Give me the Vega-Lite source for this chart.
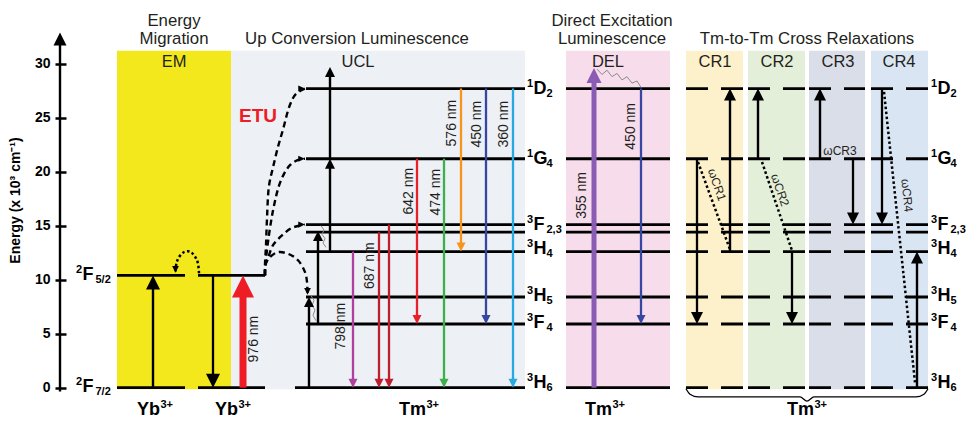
{
  "$schema": "https://vega.github.io/schema/vega-lite/v6.json",
  "width": 968,
  "height": 421,
  "padding": 0,
  "autosize": {"type": "none"},
  "background": "white",
  "config": {"view": {"stroke": null}, "font": "Liberation Sans"},
  "resolve": {"axis": {"y": "independent", "x": "independent"}},
  "datasets": {
    "panels": [
      {"panel": "EM", "x1": 117, "x2": 231, "e1": -0.15, "e2": 31.2},
      {"panel": "UCL", "x1": 231, "x2": 525, "e1": -0.15, "e2": 31.2},
      {"panel": "DEL", "x1": 566, "x2": 670, "e1": -0.15, "e2": 31.2},
      {"panel": "CR1", "x1": 686, "x2": 743, "e1": -0.15, "e2": 31.2},
      {"panel": "CR2", "x1": 748, "x2": 805, "e1": -0.15, "e2": 31.2},
      {"panel": "CR3", "x1": 809, "x2": 865, "e1": -0.15, "e2": 31.2},
      {"panel": "CR4", "x1": 871, "x2": 928, "e1": -0.15, "e2": 31.2}
    ],
    "levels": [
      {"x1": 117, "x2": 185, "e": 10.4, "style": "solid"},
      {"x1": 198, "x2": 265, "e": 10.4, "style": "solid"},
      {"x1": 117, "x2": 185, "e": 0, "style": "solid"},
      {"x1": 198, "x2": 265, "e": 0, "style": "solid"},
      {"x1": 306, "x2": 525, "e": 27.7, "style": "solid"},
      {"x1": 306, "x2": 525, "e": 21.2, "style": "solid"},
      {"x1": 306, "x2": 525, "e": 15.1, "style": "solid"},
      {"x1": 306, "x2": 525, "e": 14.4, "style": "solid"},
      {"x1": 306, "x2": 525, "e": 12.6, "style": "solid"},
      {"x1": 306, "x2": 525, "e": 8.4, "style": "solid"},
      {"x1": 306, "x2": 525, "e": 5.9, "style": "solid"},
      {"x1": 295, "x2": 525, "e": 0, "style": "solid"},
      {"x1": 566, "x2": 670, "e": 27.7, "style": "solid"},
      {"x1": 566, "x2": 670, "e": 21.2, "style": "solid"},
      {"x1": 566, "x2": 670, "e": 15.1, "style": "solid"},
      {"x1": 566, "x2": 670, "e": 14.4, "style": "solid"},
      {"x1": 566, "x2": 670, "e": 12.6, "style": "solid"},
      {"x1": 566, "x2": 670, "e": 8.4, "style": "solid"},
      {"x1": 566, "x2": 670, "e": 5.9, "style": "solid"},
      {"x1": 566, "x2": 670, "e": 0, "style": "solid"},
      {"x1": 686, "x2": 743, "e": 27.7, "style": "dashed"},
      {"x1": 686, "x2": 743, "e": 21.2, "style": "dashed"},
      {"x1": 686, "x2": 743, "e": 15.1, "style": "dashed"},
      {"x1": 686, "x2": 743, "e": 14.4, "style": "dashed"},
      {"x1": 686, "x2": 743, "e": 12.6, "style": "dashed"},
      {"x1": 686, "x2": 743, "e": 8.4, "style": "dashed"},
      {"x1": 686, "x2": 743, "e": 5.9, "style": "dashed"},
      {"x1": 686, "x2": 743, "e": 0, "style": "dashed"},
      {"x1": 748, "x2": 805, "e": 27.7, "style": "dashed"},
      {"x1": 748, "x2": 805, "e": 21.2, "style": "dashed"},
      {"x1": 748, "x2": 805, "e": 15.1, "style": "dashed"},
      {"x1": 748, "x2": 805, "e": 14.4, "style": "dashed"},
      {"x1": 748, "x2": 805, "e": 12.6, "style": "dashed"},
      {"x1": 748, "x2": 805, "e": 8.4, "style": "dashed"},
      {"x1": 748, "x2": 805, "e": 5.9, "style": "dashed"},
      {"x1": 748, "x2": 805, "e": 0, "style": "dashed"},
      {"x1": 809, "x2": 865, "e": 27.7, "style": "dashed"},
      {"x1": 809, "x2": 865, "e": 21.2, "style": "dashed"},
      {"x1": 809, "x2": 865, "e": 15.1, "style": "dashed"},
      {"x1": 809, "x2": 865, "e": 14.4, "style": "dashed"},
      {"x1": 809, "x2": 865, "e": 12.6, "style": "dashed"},
      {"x1": 809, "x2": 865, "e": 8.4, "style": "dashed"},
      {"x1": 809, "x2": 865, "e": 5.9, "style": "dashed"},
      {"x1": 809, "x2": 865, "e": 0, "style": "dashed"},
      {"x1": 871, "x2": 928, "e": 27.7, "style": "dashed"},
      {"x1": 871, "x2": 928, "e": 21.2, "style": "dashed"},
      {"x1": 871, "x2": 928, "e": 15.1, "style": "dashed"},
      {"x1": 871, "x2": 928, "e": 14.4, "style": "dashed"},
      {"x1": 871, "x2": 928, "e": 12.6, "style": "dashed"},
      {"x1": 871, "x2": 928, "e": 8.4, "style": "dashed"},
      {"x1": 871, "x2": 928, "e": 5.9, "style": "dashed"},
      {"x1": 871, "x2": 928, "e": 0, "style": "dashed"}
    ],
    "arrows": [
      {"x": 60, "e1": -0.35, "e2": 32.9, "kind": "axis", "dir": "up"},
      {"x": 153, "e1": 0, "e2": 10.4, "kind": "yb", "dir": "up"},
      {"x": 213, "e1": 10.4, "e2": 0, "kind": "yb", "dir": "down"},
      {"x": 243, "e1": 0, "e2": 10.4, "kind": "red976", "dir": "up"},
      {"x": 309, "e1": 0, "e2": 8.4, "kind": "ucl", "dir": "up"},
      {"x": 318, "e1": 5.9, "e2": 14.5, "kind": "ucl", "dir": "up"},
      {"x": 330, "e1": 12.6, "e2": 21.2, "kind": "ucl", "dir": "up"},
      {"x": 330, "e1": 21.2, "e2": 29.7, "kind": "ucl", "dir": "up"},
      {"x": 353, "e1": 12.6, "e2": 0, "kind": "c798", "dir": "down"},
      {"x": 379, "e1": 14.4, "e2": 0, "kind": "c687", "dir": "down"},
      {"x": 389, "e1": 15.1, "e2": 0, "kind": "c687", "dir": "down"},
      {"x": 417, "e1": 21.2, "e2": 5.9, "kind": "c642", "dir": "down"},
      {"x": 444, "e1": 21.2, "e2": 0, "kind": "c474", "dir": "down"},
      {"x": 461, "e1": 27.7, "e2": 12.6, "kind": "c576", "dir": "down"},
      {"x": 486, "e1": 27.7, "e2": 5.9, "kind": "c450", "dir": "down"},
      {"x": 513, "e1": 27.7, "e2": 0, "kind": "c360", "dir": "down"},
      {"x": 594, "e1": 0, "e2": 29.6, "kind": "c355", "dir": "up"},
      {"x": 641, "e1": 27.7, "e2": 5.9, "kind": "c450", "dir": "down"},
      {"x": 697, "e1": 21.2, "e2": 5.9, "kind": "cr", "dir": "down"},
      {"x": 730, "e1": 12.6, "e2": 27.7, "kind": "cr", "dir": "up"},
      {"x": 758, "e1": 21.2, "e2": 27.7, "kind": "cr", "dir": "up"},
      {"x": 792, "e1": 12.6, "e2": 5.9, "kind": "cr", "dir": "down"},
      {"x": 820, "e1": 21.2, "e2": 27.7, "kind": "cr", "dir": "up"},
      {"x": 853, "e1": 21.2, "e2": 15.1, "kind": "cr", "dir": "down"},
      {"x": 882, "e1": 27.7, "e2": 15.1, "kind": "cr", "dir": "down"},
      {"x": 917, "e1": 0, "e2": 12.6, "kind": "cr", "dir": "up"}
    ],
    "curves": [
      {"curve": "A", "ctype": "etu", "ord": 1, "x": 265, "e": 10.4},
      {"curve": "A", "ctype": "etu", "ord": 2, "x": 265, "e": 11.4},
      {"curve": "A", "ctype": "etu", "ord": 3, "x": 266, "e": 13.2},
      {"curve": "A", "ctype": "etu", "ord": 4, "x": 267, "e": 15.7},
      {"curve": "A", "ctype": "etu", "ord": 5, "x": 269, "e": 18.7},
      {"curve": "A", "ctype": "etu", "ord": 6, "x": 273, "e": 20.4},
      {"curve": "A", "ctype": "etu", "ord": 7, "x": 278, "e": 22.3},
      {"curve": "A", "ctype": "etu", "ord": 8, "x": 283, "e": 23.9},
      {"curve": "A", "ctype": "etu", "ord": 9, "x": 290, "e": 26.2},
      {"curve": "A", "ctype": "etu", "ord": 10, "x": 296, "e": 27.2},
      {"curve": "A", "ctype": "etu", "ord": 11, "x": 305, "e": 27.7, "head": "right", "kind": "ucl"},
      {"curve": "B", "ctype": "etu", "ord": 1, "x": 265, "e": 10.4},
      {"curve": "B", "ctype": "etu", "ord": 2, "x": 265.5, "e": 11.4},
      {"curve": "B", "ctype": "etu", "ord": 3, "x": 268, "e": 13.5},
      {"curve": "B", "ctype": "etu", "ord": 4, "x": 273, "e": 16.4},
      {"curve": "B", "ctype": "etu", "ord": 5, "x": 279, "e": 18.7},
      {"curve": "B", "ctype": "etu", "ord": 6, "x": 284, "e": 19.8},
      {"curve": "B", "ctype": "etu", "ord": 7, "x": 290, "e": 20.6},
      {"curve": "B", "ctype": "etu", "ord": 8, "x": 297, "e": 21.05},
      {"curve": "B", "ctype": "etu", "ord": 9, "x": 305, "e": 21.2, "head": "right", "kind": "ucl"},
      {"curve": "C", "ctype": "etu", "ord": 1, "x": 265, "e": 10.4},
      {"curve": "C", "ctype": "etu", "ord": 2, "x": 265.5, "e": 11.4},
      {"curve": "C", "ctype": "etu", "ord": 3, "x": 268, "e": 12.0},
      {"curve": "C", "ctype": "etu", "ord": 4, "x": 273, "e": 13.2},
      {"curve": "C", "ctype": "etu", "ord": 5, "x": 282, "e": 14.1},
      {"curve": "C", "ctype": "etu", "ord": 6, "x": 292, "e": 14.8},
      {"curve": "C", "ctype": "etu", "ord": 7, "x": 305, "e": 15.1, "head": "right", "kind": "ucl"},
      {"curve": "D", "ctype": "etu", "ord": 1, "x": 265, "e": 10.4},
      {"curve": "D", "ctype": "etu", "ord": 2, "x": 265.5, "e": 11.4},
      {"curve": "D", "ctype": "etu", "ord": 3, "x": 270, "e": 12.1},
      {"curve": "D", "ctype": "etu", "ord": 4, "x": 278, "e": 12.55},
      {"curve": "D", "ctype": "etu", "ord": 5, "x": 288, "e": 12.4},
      {"curve": "D", "ctype": "etu", "ord": 6, "x": 298, "e": 11.8},
      {"curve": "D", "ctype": "etu", "ord": 7, "x": 305, "e": 10.7},
      {"curve": "D", "ctype": "etu", "ord": 8, "x": 307, "e": 9.8},
      {"curve": "D", "ctype": "etu", "ord": 9, "x": 307.5, "e": 8.6, "head": "down", "kind": "ucl"},
      {"curve": "EM", "ctype": "dot", "ord": 1, "x": 199, "e": 10.6},
      {"curve": "EM", "ctype": "dot", "ord": 2, "x": 197, "e": 11.8},
      {"curve": "EM", "ctype": "dot", "ord": 3, "x": 190, "e": 12.6},
      {"curve": "EM", "ctype": "dot", "ord": 4, "x": 183, "e": 12.5},
      {"curve": "EM", "ctype": "dot", "ord": 5, "x": 177, "e": 11.7},
      {"curve": "EM", "ctype": "dot", "ord": 6, "x": 175.5, "e": 10.65, "head": "down", "kind": "ucl"},
      {"curve": "W1", "ctype": "dot", "ord": 1, "x": 698, "e": 20.9},
      {"curve": "W1", "ctype": "dot", "ord": 2, "x": 730, "e": 12.8},
      {"curve": "W2", "ctype": "dot", "ord": 1, "x": 762, "e": 20.9},
      {"curve": "W2", "ctype": "dot", "ord": 2, "x": 792, "e": 12.7},
      {"curve": "W4", "ctype": "dot", "ord": 1, "x": 884, "e": 27.4},
      {"curve": "W4", "ctype": "dot", "ord": 2, "x": 915, "e": 0.5},
      {"curve": "BR", "ctype": "brace", "ord": 1, "x": 686, "e": -0.1},
      {"curve": "BR", "ctype": "brace", "ord": 2, "x": 690, "e": -0.6},
      {"curve": "BR", "ctype": "brace", "ord": 3, "x": 698, "e": -0.85},
      {"curve": "BR", "ctype": "brace", "ord": 4, "x": 800, "e": -0.85},
      {"curve": "BR", "ctype": "brace", "ord": 5, "x": 807, "e": -1.25},
      {"curve": "BR", "ctype": "brace", "ord": 6, "x": 814, "e": -0.85},
      {"curve": "BR", "ctype": "brace", "ord": 7, "x": 916, "e": -0.85},
      {"curve": "BR", "ctype": "brace", "ord": 8, "x": 924, "e": -0.6},
      {"curve": "BR", "ctype": "brace", "ord": 9, "x": 928, "e": -0.1},
      {"curve": "WV", "ctype": "wave", "ord": 1, "x": 597, "e": 29.5},
      {"curve": "WV", "ctype": "wave", "ord": 2, "x": 602, "e": 29.0},
      {"curve": "WV", "ctype": "wave", "ord": 3, "x": 607, "e": 29.4},
      {"curve": "WV", "ctype": "wave", "ord": 4, "x": 612, "e": 28.8},
      {"curve": "WV", "ctype": "wave", "ord": 5, "x": 617, "e": 29.1},
      {"curve": "WV", "ctype": "wave", "ord": 6, "x": 622, "e": 28.5},
      {"curve": "WV", "ctype": "wave", "ord": 7, "x": 627, "e": 28.8},
      {"curve": "WV", "ctype": "wave", "ord": 8, "x": 632, "e": 28.2},
      {"curve": "WV", "ctype": "wave", "ord": 9, "x": 637, "e": 28.4},
      {"curve": "WV", "ctype": "wave", "ord": 10, "x": 641, "e": 27.8},
      {"curve": "WU1", "ctype": "wave", "ord": 1, "x": 321, "e": 15.0},
      {"curve": "WU1", "ctype": "wave", "ord": 2, "x": 324, "e": 14.6},
      {"curve": "WU1", "ctype": "wave", "ord": 3, "x": 322, "e": 14.2},
      {"curve": "WU1", "ctype": "wave", "ord": 4, "x": 325, "e": 13.8},
      {"curve": "WU1", "ctype": "wave", "ord": 5, "x": 323, "e": 13.4},
      {"curve": "WU1", "ctype": "wave", "ord": 6, "x": 326, "e": 13.0},
      {"curve": "WU2", "ctype": "wave", "ord": 1, "x": 311, "e": 8.5},
      {"curve": "WU2", "ctype": "wave", "ord": 2, "x": 314, "e": 8.1},
      {"curve": "WU2", "ctype": "wave", "ord": 3, "x": 312, "e": 7.6},
      {"curve": "WU2", "ctype": "wave", "ord": 4, "x": 315, "e": 7.2},
      {"curve": "WU2", "ctype": "wave", "ord": 5, "x": 313, "e": 6.7},
      {"curve": "WU2", "ctype": "wave", "ord": 6, "x": 316, "e": 6.2}
    ],
    "levelLabels": [
      {"x": 527, "e": 27.7, "sup": "1", "main": "D", "sub": "2"},
      {"x": 527, "e": 21.2, "sup": "1", "main": "G", "sub": "4"},
      {"x": 527, "e": 15.1, "sup": "3", "main": "F", "sub": "2,3"},
      {"x": 527, "e": 12.8, "sup": "3", "main": "H", "sub": "4"},
      {"x": 527, "e": 8.5, "sup": "3", "main": "H", "sub": "5"},
      {"x": 527, "e": 6.0, "sup": "3", "main": "F", "sub": "4"},
      {"x": 527, "e": 0.4, "sup": "3", "main": "H", "sub": "6"},
      {"x": 931, "e": 27.7, "sup": "1", "main": "D", "sub": "2"},
      {"x": 931, "e": 21.2, "sup": "1", "main": "G", "sub": "4"},
      {"x": 931, "e": 15.1, "sup": "3", "main": "F", "sub": "2,3"},
      {"x": 931, "e": 12.8, "sup": "3", "main": "H", "sub": "4"},
      {"x": 931, "e": 8.5, "sup": "3", "main": "H", "sub": "5"},
      {"x": 931, "e": 6.0, "sup": "3", "main": "F", "sub": "4"},
      {"x": 931, "e": 0.4, "sup": "3", "main": "H", "sub": "6"},
      {"x": 76, "e": 10.4, "sup": "2", "main": "F", "sub": "5/2"},
      {"x": 76, "e": 0.1, "sup": "2", "main": "F", "sub": "7/2"}
    ],
    "ions": [
      {"x": 160, "e": -2.1, "main": "Yb", "sup": "3+"},
      {"x": 238, "e": -2.1, "main": "Yb", "sup": "3+"},
      {"x": 426, "e": -2.1, "main": "Tm", "sup": "3+"},
      {"x": 612, "e": -2.1, "main": "Tm", "sup": "3+"},
      {"x": 814, "e": -2.1, "main": "Tm", "sup": "3+"}
    ],
    "texts": [
      {"x": 174, "e": 33.95, "text": "Energy", "role": "title"},
      {"x": 174, "e": 32.25, "text": "Migration", "role": "title"},
      {"x": 357, "e": 32.25, "text": "Up Conversion Luminescence", "role": "title"},
      {"x": 612, "e": 33.95, "text": "Direct Excitation", "role": "title"},
      {"x": 612, "e": 32.25, "text": "Luminescence", "role": "title"},
      {"x": 807, "e": 32.25, "text": "Tm-to-Tm Cross Relaxations", "role": "title"},
      {"x": 174, "e": 30.2, "text": "EM", "role": "panel"},
      {"x": 358, "e": 30.2, "text": "UCL", "role": "panel"},
      {"x": 608, "e": 30.2, "text": "DEL", "role": "panel"},
      {"x": 715, "e": 30.2, "text": "CR1", "role": "panel"},
      {"x": 777, "e": 30.2, "text": "CR2", "role": "panel"},
      {"x": 838, "e": 30.2, "text": "CR3", "role": "panel"},
      {"x": 899, "e": 30.2, "text": "CR4", "role": "panel"},
      {"x": 258, "e": 25.2, "text": "ETU", "role": "etu"},
      {"x": 254, "e": 4.5, "text": "976 nm", "role": "nm"},
      {"x": 341, "e": 5.7, "text": "798 nm", "role": "nm"},
      {"x": 370, "e": 11.3, "text": "687 nm", "role": "nm"},
      {"x": 409, "e": 18.2, "text": "642 nm", "role": "nm"},
      {"x": 436, "e": 18.1, "text": "474 nm", "role": "nm"},
      {"x": 452, "e": 24.5, "text": "576 nm", "role": "nm"},
      {"x": 477, "e": 24.4, "text": "450 nm", "role": "nm"},
      {"x": 504, "e": 24.4, "text": "360 nm", "role": "nm"},
      {"x": 631, "e": 24.2, "text": "450 nm", "role": "nm"},
      {"x": 582, "e": 17.8, "text": "355 nm", "role": "nm"},
      {"x": 717, "e": 18.8, "text": "ωCR1", "role": "omegaA"},
      {"x": 780, "e": 18.3, "text": "ωCR2", "role": "omegaA"},
      {"x": 907, "e": 17.8, "text": "ωCR4", "role": "omegaB"},
      {"x": 840, "e": 21.9, "text": "ωCR3", "role": "omegaC"}
    ]
  },
  "layer": [
    {
      "data": {"name": "panels"},
      "mark": {"type": "rect"},
      "encoding": {
        "x": {"field": "x1", "type": "quantitative", "scale": {"domain": [0, 968], "nice": false, "zero": false}, "axis": null},
        "x2": {"field": "x2"},
        "y": {"field": "e1", "type": "quantitative", "scale": {"domain": [-3.083, 35.898], "nice": false, "zero": false},
          "axis": {"values": [0, 5, 10, 15, 20, 25, 30], "offset": -66, "tickSize": 11, "tickWidth": 2.5, "tickColor": "black", "domain": false, "grid": false,
            "labelFont": "Liberation Sans", "labelFontWeight": "bold", "labelFontSize": 14, "labelColor": "black", "labelPadding": 5,
            "title": "Energy (x 10³ cm⁻¹)", "titleFont": "Liberation Sans", "titleFontSize": 14, "titleFontWeight": "bold", "titleColor": "black",
            "titleX": -51, "titleY": 200, "titleAngle": 270, "titleAlign": "center", "titleBaseline": "middle"}},
        "y2": {"field": "e2"},
        "color": {"field": "panel", "type": "nominal", "legend": null,
          "scale": {"domain": ["EM", "UCL", "DEL", "CR1", "CR2", "CR3", "CR4", "axis", "yb", "ucl", "cr", "red976", "c355", "c798", "c687", "c642", "c474", "c576", "c450", "c360"],
            "range": ["#F2E81C", "#EDF0F4", "#F7DDEC", "#FDF1CC", "#E4EFDA", "#DADEE8", "#DAE5F3", "#000000", "#000000", "#000000", "#000000", "#EE1C25", "#8B5CB3", "#B0409E", "#BE1E2D", "#E8202A", "#3CB04A", "#F7941D", "#3547A0", "#28A9E1"]}}
      }
    },
    {
      "data": {"name": "levels"},
      "transform": [{"filter": "datum.style == 'solid'"}],
      "mark": {"type": "rule", "strokeWidth": 2.8, "color": "black", "strokeCap": "butt"},
      "encoding": {
        "x": {"field": "x1", "type": "quantitative", "axis": null},
        "x2": {"field": "x2"},
        "y": {"field": "e", "type": "quantitative", "axis": null}
      }
    },
    {
      "data": {"name": "levels"},
      "transform": [{"filter": "datum.style == 'dashed'"}],
      "mark": {"type": "rule", "strokeWidth": 2.8, "color": "black", "strokeCap": "butt", "strokeDash": [22, 13]},
      "encoding": {
        "x": {"field": "x1", "type": "quantitative", "axis": null},
        "x2": {"field": "x2"},
        "y": {"field": "e", "type": "quantitative", "axis": null}
      }
    },
    {
      "data": {"name": "curves"},
      "transform": [{"filter": "datum.ctype == 'etu'"}],
      "mark": {"type": "line", "interpolate": "catmull-rom", "strokeDash": [6, 4], "strokeWidth": 2.4, "color": "black"},
      "encoding": {
        "x": {"field": "x", "type": "quantitative", "axis": null},
        "y": {"field": "e", "type": "quantitative", "axis": null},
        "detail": {"field": "curve"},
        "order": {"field": "ord"}
      }
    },
    {
      "data": {"name": "curves"},
      "transform": [{"filter": "datum.ctype == 'dot'"}],
      "mark": {"type": "line", "interpolate": "catmull-rom", "strokeDash": [2.5, 2.5], "strokeWidth": 2.5, "color": "black"},
      "encoding": {
        "x": {"field": "x", "type": "quantitative", "axis": null},
        "y": {"field": "e", "type": "quantitative", "axis": null},
        "detail": {"field": "curve"},
        "order": {"field": "ord"}
      }
    },
    {
      "data": {"name": "curves"},
      "transform": [{"filter": "datum.ctype == 'brace'"}],
      "mark": {"type": "line", "interpolate": "monotone", "strokeWidth": 1.3, "color": "black"},
      "encoding": {
        "x": {"field": "x", "type": "quantitative", "axis": null},
        "y": {"field": "e", "type": "quantitative", "axis": null},
        "detail": {"field": "curve"},
        "order": {"field": "ord"}
      }
    },
    {
      "data": {"name": "curves"},
      "transform": [{"filter": "datum.ctype == 'wave'"}],
      "mark": {"type": "line", "strokeWidth": 1, "color": "#8a8a8a"},
      "encoding": {
        "x": {"field": "x", "type": "quantitative", "axis": null},
        "y": {"field": "e", "type": "quantitative", "axis": null},
        "detail": {"field": "curve"},
        "order": {"field": "ord"}
      }
    },
    {
      "data": {"name": "arrows"},
      "transform": [{"filter": "datum.dir == 'up' && datum.kind != 'red976' && datum.kind != 'c355'"}],
      "mark": {"type": "rule", "y2Offset": 4, "strokeCap": "butt", "strokeWidth": 2.4},
      "encoding": {
        "x": {"field": "x", "type": "quantitative", "axis": null},
        "y": {"field": "e1", "type": "quantitative", "axis": null},
        "y2": {"field": "e2"},
        "color": {"field": "kind", "type": "nominal", "legend": null}
      }
    },
    {
      "data": {"name": "arrows"},
      "transform": [{"filter": "datum.dir == 'down'"}],
      "mark": {"type": "rule", "y2Offset": -4, "strokeCap": "butt", "strokeWidth": 2.3},
      "encoding": {
        "x": {"field": "x", "type": "quantitative", "axis": null},
        "y": {"field": "e1", "type": "quantitative", "axis": null},
        "y2": {"field": "e2"},
        "color": {"field": "kind", "type": "nominal", "legend": null}
      }
    },
    {
      "data": {"name": "arrows"},
      "transform": [{"filter": "datum.kind == 'red976'"}],
      "mark": {"type": "rule", "y2Offset": 12, "strokeCap": "butt", "strokeWidth": 7},
      "encoding": {
        "x": {"field": "x", "type": "quantitative", "axis": null},
        "y": {"field": "e1", "type": "quantitative", "axis": null},
        "y2": {"field": "e2"},
        "color": {"field": "kind", "type": "nominal", "legend": null}
      }
    },
    {
      "data": {"name": "arrows"},
      "transform": [{"filter": "datum.kind == 'c355'"}],
      "mark": {"type": "rule", "y2Offset": 10, "strokeCap": "butt", "strokeWidth": 5},
      "encoding": {
        "x": {"field": "x", "type": "quantitative", "axis": null},
        "y": {"field": "e1", "type": "quantitative", "axis": null},
        "y2": {"field": "e2"},
        "color": {"field": "kind", "type": "nominal", "legend": null}
      }
    },
    {
      "data": {"name": "arrows"},
      "mark": {"type": "point", "filled": true, "opacity": 1, "strokeWidth": 0},
      "encoding": {
        "x": {"field": "x", "type": "quantitative", "axis": null},
        "y": {"field": "e2", "type": "quantitative", "axis": null},
        "color": {"field": "kind", "type": "nominal", "legend": null},
        "shape": {"field": "dir", "type": "nominal", "legend": null,
          "scale": {"domain": ["up", "down", "right"], "range": ["M0,0L-0.5,1L0.5,1Z", "M0,0L-0.5,-1L0.5,-1Z", "M0,0L-1,-0.45L-1,0.45Z"]}},
        "size": {"field": "kind", "type": "nominal", "legend": null,
          "scale": {"type": "ordinal", "domain": ["axis", "yb", "ucl", "cr", "red976", "c355", "c798", "c687", "c642", "c474", "c576", "c450", "c360"],
            "range": [676, 784, 400, 576, 1936, 900, 324, 324, 324, 324, 324, 324, 324]}}
      }
    },
    {
      "data": {"name": "curves"},
      "transform": [{"filter": "isValid(datum.head)"}],
      "mark": {"type": "point", "filled": true, "opacity": 1, "strokeWidth": 0},
      "encoding": {
        "x": {"field": "x", "type": "quantitative", "axis": null},
        "y": {"field": "e", "type": "quantitative", "axis": null},
        "color": {"field": "kind", "type": "nominal", "legend": null},
        "shape": {"field": "head", "type": "nominal", "legend": null},
        "size": {"field": "kind", "type": "nominal", "legend": null}
      }
    },
    {
      "data": {"name": "texts"},
      "transform": [{"filter": "datum.role == 'title'"}],
      "mark": {"type": "text", "font": "Liberation Sans", "fontSize": 16.8, "color": "#231F20", "baseline": "middle", "align": "center"},
      "encoding": {
        "x": {"field": "x", "type": "quantitative", "axis": null},
        "y": {"field": "e", "type": "quantitative", "axis": null},
        "text": {"field": "text"}
      }
    },
    {
      "data": {"name": "texts"},
      "transform": [{"filter": "datum.role == 'panel'"}],
      "mark": {"type": "text", "font": "Liberation Sans", "fontSize": 16.5, "color": "#231F20", "baseline": "middle", "align": "center"},
      "encoding": {
        "x": {"field": "x", "type": "quantitative", "axis": null},
        "y": {"field": "e", "type": "quantitative", "axis": null},
        "text": {"field": "text"}
      }
    },
    {
      "data": {"name": "levelLabels"},
      "mark": {"type": "text", "font": "Liberation Sans", "fontSize": 11, "fontWeight": "bold", "color": "black", "baseline": "middle", "align": "left", "dy": -5},
      "encoding": {
        "x": {"field": "x", "type": "quantitative", "axis": null},
        "y": {"field": "e", "type": "quantitative", "axis": null},
        "text": {"field": "sup"}
      }
    },
    {
      "data": {"name": "levelLabels"},
      "mark": {"type": "text", "font": "Liberation Sans", "fontSize": 18, "fontWeight": "bold", "color": "black", "baseline": "middle", "align": "left", "dx": 6.5},
      "encoding": {
        "x": {"field": "x", "type": "quantitative", "axis": null},
        "y": {"field": "e", "type": "quantitative", "axis": null},
        "text": {"field": "main"}
      }
    },
    {
      "data": {"name": "levelLabels"},
      "mark": {"type": "text", "font": "Liberation Sans", "fontSize": 11, "fontWeight": "bold", "color": "black", "baseline": "middle", "align": "left", "dx": 19.5, "dy": 5},
      "encoding": {
        "x": {"field": "x", "type": "quantitative", "axis": null},
        "y": {"field": "e", "type": "quantitative", "axis": null},
        "text": {"field": "sub"}
      }
    },
    {
      "data": {"name": "ions"},
      "mark": {"type": "text", "font": "Liberation Sans", "fontSize": 18, "fontWeight": "bold", "color": "black", "baseline": "middle", "align": "right"},
      "encoding": {
        "x": {"field": "x", "type": "quantitative", "axis": null},
        "y": {"field": "e", "type": "quantitative", "axis": null},
        "text": {"field": "main"}
      }
    },
    {
      "data": {"name": "ions"},
      "mark": {"type": "text", "font": "Liberation Sans", "fontSize": 11, "fontWeight": "bold", "color": "black", "baseline": "middle", "align": "left", "dx": 0.5, "dy": -5},
      "encoding": {
        "x": {"field": "x", "type": "quantitative", "axis": null},
        "y": {"field": "e", "type": "quantitative", "axis": null},
        "text": {"field": "sup"}
      }
    },
    {
      "data": {"name": "texts"},
      "transform": [{"filter": "datum.role == 'etu'"}],
      "mark": {"type": "text", "font": "Liberation Sans", "fontSize": 19, "fontWeight": "bold", "color": "#EE1C25", "baseline": "middle", "align": "center"},
      "encoding": {
        "x": {"field": "x", "type": "quantitative", "axis": null},
        "y": {"field": "e", "type": "quantitative", "axis": null},
        "text": {"field": "text"}
      }
    },
    {
      "data": {"name": "texts"},
      "transform": [{"filter": "datum.role == 'nm'"}],
      "mark": {"type": "text", "font": "Liberation Sans", "fontSize": 14, "color": "#231F20", "baseline": "middle", "align": "center", "angle": 270},
      "encoding": {
        "x": {"field": "x", "type": "quantitative", "axis": null},
        "y": {"field": "e", "type": "quantitative", "axis": null},
        "text": {"field": "text"}
      }
    },
    {
      "data": {"name": "texts"},
      "transform": [{"filter": "datum.role == 'omegaA'"}],
      "mark": {"type": "text", "font": "Liberation Sans", "fontSize": 12, "color": "#231F20", "baseline": "middle", "align": "center", "angle": 71},
      "encoding": {
        "x": {"field": "x", "type": "quantitative", "axis": null},
        "y": {"field": "e", "type": "quantitative", "axis": null},
        "text": {"field": "text"}
      }
    },
    {
      "data": {"name": "texts"},
      "transform": [{"filter": "datum.role == 'omegaB'"}],
      "mark": {"type": "text", "font": "Liberation Sans", "fontSize": 12, "color": "#231F20", "baseline": "middle", "align": "center", "angle": 84},
      "encoding": {
        "x": {"field": "x", "type": "quantitative", "axis": null},
        "y": {"field": "e", "type": "quantitative", "axis": null},
        "text": {"field": "text"}
      }
    },
    {
      "data": {"name": "texts"},
      "transform": [{"filter": "datum.role == 'omegaC'"}],
      "mark": {"type": "text", "font": "Liberation Sans", "fontSize": 12, "color": "#231F20", "baseline": "middle", "align": "center"},
      "encoding": {
        "x": {"field": "x", "type": "quantitative", "axis": null},
        "y": {"field": "e", "type": "quantitative", "axis": null},
        "text": {"field": "text"}
      }
    }
  ]
}
